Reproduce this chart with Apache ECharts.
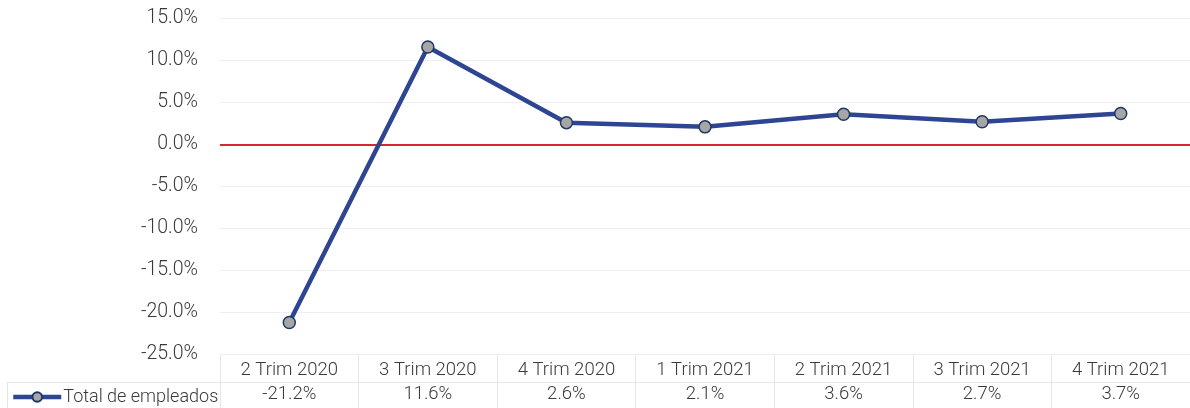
<!DOCTYPE html>
<html>
<head>
<meta charset="utf-8">
<title>Total de empleados</title>
<script src="https://cdn.jsdelivr.net/npm/echarts@6/dist/echarts.min.js"></script>
<style>
  html, body { margin: 0; padding: 0; background: #fff; }
  #main { width: 1190px; height: 408px; }
</style>
</head>
<body>
<div id="main"></div>
<script>
// datos del gráfico
var categories = ["2 Trim 2020", "3 Trim 2020", "4 Trim 2020", "1 Trim 2021", "2 Trim 2021", "3 Trim 2021", "4 Trim 2021"];
var empleados = [-21.2, 11.6, 2.6, 2.1, 3.6, 2.7, 3.7];
var seriesName = "Total de empleados";

var fontFam = "Roboto";
var txtColor = "#3a3a3a";
var lineColor = "#2E4593";
var gridColor = "#d9d9d9";

function pct(v) { return v.toFixed(1) + "%"; }

var chart = echarts.init(document.getElementById("main"));

chart.setOption({
  animation: false,
  textStyle: { fontFamily: fontFam, fontWeight: 300 },
  grid: [
    { left: 220, right: 0, top: 18.5, bottom: 53.5 },
    { left: 220, right: 0, top: 355, bottom: 0 }
  ],
  legend: {
    data: [{ name: seriesName, lineStyle: { width: 4.5, color: lineColor } }],
    left: 6,
    top: 383,
    itemWidth: 48,
    itemHeight: 12,
    itemGap: 4,
    textStyle: { fontFamily: fontFam, fontWeight: 300, fontSize: 18, color: txtColor, padding: [0, 0, 0, -3] }
  },
  xAxis: [
    {
      type: "category",
      gridIndex: 0,
      data: categories,
      axisLine: { show: true, lineStyle: { color: gridColor, width: 1 } },
      axisTick: { show: false },
      axisLabel: { fontFamily: fontFam, fontWeight: 300, fontSize: 18.5, color: txtColor, margin: 6 }
    },
    {
      type: "category",
      gridIndex: 1,
      data: empleados.map(pct),
      axisLine: { show: false },
      axisTick: { show: false },
      splitLine: { show: true, lineStyle: { color: "#e6e6e6", width: 1 } },
      axisLabel: { inside: true, fontFamily: fontFam, fontWeight: 300, fontSize: 18.5, color: txtColor, margin: 4 }
    }
  ],
  yAxis: [
    {
      type: "value",
      gridIndex: 0,
      min: -25,
      max: 15,
      interval: 5,
      axisLine: { show: false },
      axisTick: { show: false },
      splitLine: { lineStyle: { color: "#efefef", width: 1 } },
      axisLabel: { formatter: pct, fontFamily: fontFam, fontWeight: 300, fontSize: 19.5, color: txtColor, margin: 22, padding: [5, 0, 0, 0] }
    },
    {
      type: "value",
      gridIndex: 1,
      show: false
    }
  ],
  series: [
    {
      name: seriesName,
      type: "line",
      xAxisIndex: 0,
      yAxisIndex: 0,
      data: empleados,
      symbol: "circle",
      symbolSize: 12,
      lineStyle: { color: lineColor, width: 4.5 },
      itemStyle: { color: "#A6A6A6", borderColor: "#1F3864", borderWidth: 1.5 },
      z: 5,
      markLine: {
        silent: true,
        symbol: "none",
        label: { show: false },
        lineStyle: { color: "#D9262C", width: 2, type: "solid" },
        data: [{ yAxis: 0 }],
        z: 3
      }
    }
  ],
  graphic: [
    { type: "line", shape: { x1: 7, y1: 382.5, x2: 1190, y2: 382.5 }, style: { stroke: "#e6e6e6", lineWidth: 1 } },
    { type: "line", shape: { x1: 7.5, y1: 382, x2: 7.5, y2: 408 }, style: { stroke: "#e6e6e6", lineWidth: 1 } }
  ]
});
</script>
</body>
</html>
